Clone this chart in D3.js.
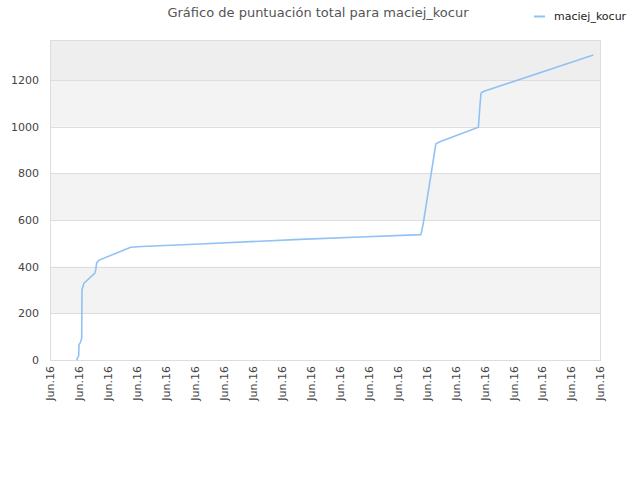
<!DOCTYPE html>
<html><head><meta charset="utf-8">
<script src="https://cdn.jsdelivr.net/npm/d3@7"></script>
<style>body{margin:0;background:#fff;} text{font-family:"DejaVu Sans",sans-serif;}</style>
</head><body>
<svg id="c" width="640" height="480"></svg>
<script>
const titleText = "Gráfico de puntuación total para maciej_kocur";
const seriesName = "maciej_kocur";
const tickLabels = ["Jun.16","Jun.16","Jun.16","Jun.16","Jun.16","Jun.16","Jun.16","Jun.16","Jun.16","Jun.16","Jun.16","Jun.16","Jun.16","Jun.16","Jun.16","Jun.16","Jun.16","Jun.16","Jun.16","Jun.16"];
const xValues = [0.922,0.99,1.0,1.06,1.095,1.105,1.15,1.175,1.544,1.58,1.613,1.70,2.788,3.168,5.18,7.25,8.64,10.71,12.806,12.83,12.9,13.33,13.47,14.80,14.85,14.89,14.97,18.77];
const yValues = [0,18,64,78,94,300,320,329,371,386,417,428,483,486,497,509,517,527,537,545,590,926,935,997,1086,1143,1150,1307];
const yTicks = [0,200,400,600,800,1000,1200];

const svg = d3.select("#c");
const m = {l:50, r:600, t:40, b:360};
const x = d3.scaleLinear().domain([0, tickLabels.length-1]).range([m.l, m.r]);
const y = d3.scaleLinear().domain([0, 1371]).range([m.b, m.t]);

// bands
const bandEdges = [0,200,400,600,800,1000,1200,1371];
for (let i=0;i<bandEdges.length-1;i++){
  let fill = null;
  if (i===6) fill="#eeeeee"; else if (i%2===1) fill="#f3f3f3";
  if (fill) svg.append("rect").attr("x",m.l).attr("width",m.r-m.l)
    .attr("y",y(bandEdges[i+1])).attr("height",y(bandEdges[i])-y(bandEdges[i+1])).attr("fill",fill);
}
// grid
svg.append("g").selectAll("line").data(yTicks).join("line")
  .attr("x1",m.l).attr("x2",m.r).attr("y1",d=>Math.round(y(d))+0.5).attr("y2",d=>Math.round(y(d))+0.5)
  .attr("stroke","#dddddd");
// border
svg.append("rect").attr("x",m.l+0.5).attr("y",m.t+0.5).attr("width",m.r-m.l).attr("height",m.b-m.t)
  .attr("fill","none").attr("stroke","#dddddd");

// y axis
const ya = svg.append("g").attr("transform",`translate(${m.l},0)`)
  .call(d3.axisLeft(y).tickValues(yTicks).tickSize(0).tickPadding(11).tickFormat(d3.format("d")));
ya.select(".domain").remove();
ya.selectAll("text").attr("font-size","11px").attr("fill","#444").style("font-family","DejaVu Sans");

// x axis
const xa = svg.append("g").attr("transform",`translate(0,${m.b})`)
  .call(d3.axisBottom(x).tickValues(d3.range(tickLabels.length)).tickSize(0).tickFormat(i=>tickLabels[i]));
xa.select(".domain").remove();
xa.selectAll("text").attr("font-size","11px").attr("fill","#444").style("font-family","DejaVu Sans")
  .attr("text-anchor","end").attr("transform","rotate(-90)").attr("x",-6).attr("y",0).attr("dy","0.35em");

// line
const pts = xValues.map((v,i)=>[v,yValues[i]]);
svg.append("path").datum(pts)
  .attr("d", d3.line().x(d=>x(d[0])).y(d=>y(d[1])))
  .attr("fill","none").attr("stroke","#90c2f4").attr("stroke-width",1.6);

// title
svg.append("text").attr("x",318).attr("y",17).attr("text-anchor","middle")
  .attr("font-size","13px").attr("fill","#555").text(titleText);
// legend
svg.append("line").attr("x1",534).attr("x2",545).attr("y1",16.5).attr("y2",16.5)
  .attr("stroke","#90c2f4").attr("stroke-width",2);
svg.append("text").attr("x",554).attr("y",20).attr("font-size","11px").attr("fill","#222").text(seriesName);
</script>
</body></html>
